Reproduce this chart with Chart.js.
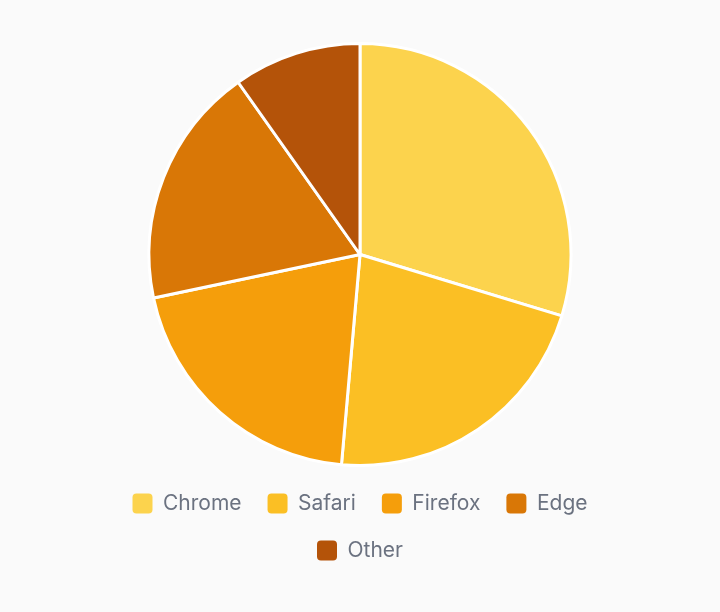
<!DOCTYPE html>
<html>
<head>
<meta charset="utf-8">
<script src="https://cdn.jsdelivr.net/npm/chart.js@4.4.1/dist/chart.umd.min.js"></script>
<style>
  html, body { margin: 0; padding: 0; background: #fafafa; }
  #wrap { width: 720px; height: 612px; }
</style>
</head>
<body>
<div id="wrap"><canvas id="myChart"></canvas></div>
<script>
// browser share
const browsers = ["Chrome", "Safari", "Firefox", "Edge", "Other"];
const shares = [29.7, 21.7, 20.3, 18.5, 9.8];
const sliceColors = ["#fcd34d", "#fbbf24", "#f59e0b", "#d97706", "#b45309"];

const data = {
  labels: browsers,
  datasets: [
    {
      label: "Browser share",
      data: shares,
      backgroundColor: sliceColors,
      borderColor: "#ffffff",
      borderWidth: 3,
    },
  ],
};

const config = {
  type: "pie",
  data: data,
  options: {
    responsive: true,
    maintainAspectRatio: false,
    animation: false,
    // side padding narrows the legend so "Other" wraps to a 2nd row
    layout: { padding: { top: 42, bottom: 41, left: 78, right: 78 } },
    plugins: {
      tooltip: { enabled: false },
      legend: {
        position: "bottom",
        labels: {
          font: { family: "Inter", size: 21 },
          color: "#6b7280",
          boxWidth: 20,
          boxHeight: 20,
          padding: 26,
          useBorderRadius: true,
          borderRadius: 4,
          generateLabels: (chart) => {
            // default items, but without the white slice border on the boxes
            const items = Chart.overrides.pie.plugins.legend.labels.generateLabels(chart);
            items.forEach((it) => { it.lineWidth = 0; });
            return items;
          },
        },
      },
    },
  },
};

var myChart = new Chart(document.getElementById("myChart"), config);
</script>
</body>
</html>
